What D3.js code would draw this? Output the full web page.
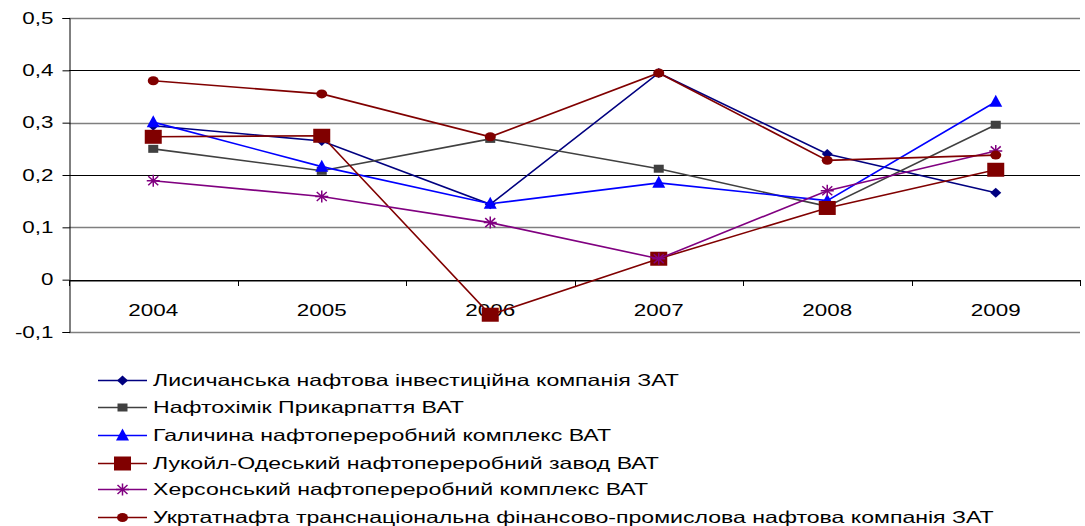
<!DOCTYPE html>
<html><head><meta charset="utf-8">
<script src="https://cdn.jsdelivr.net/npm/d3@7"></script>
<style>body{margin:0;background:#fff}svg{display:block}text{font-family:"Liberation Sans",Arial,sans-serif}</style>
</head><body><svg id="c" width="1085" height="526"></svg>
<script>
const years = ["2004","2005","2006","2007","2008","2009"];
const yTicks = [-0.1,0,0.1,0.2,0.3,0.4,0.5];
const seriesNames = [
  "Лисичанська нафтова інвестиційна компанія ЗАТ",
  "Нафтохімік Прикарпаття ВАТ",
  "Галичина нафтопереробний комплекс ВАТ",
  "Лукойл-Одеський нафтопереробний завод ВАТ",
  "Херсонський нафтопереробний комплекс ВАТ",
  "Укртатнафта транснаціональна фінансово-промислова нафтова компанія ЗАТ"
];
const lysychansk = [0.294,0.265,0.144,0.395,0.240,0.166];
const naftokhimik = [0.250,0.208,0.269,0.212,0.140,0.296];
const halychyna = [0.301,0.216,0.145,0.185,0.151,0.340];
const lukoil = [0.273,0.275,-0.067,0.040,0.137,0.210];
const kherson = [0.189,0.159,0.109,0.040,0.170,0.246];
const ukrtatnafta = [0.380,0.355,0.273,0.395,0.228,0.238];

const seriesValues = [lysychansk,naftokhimik,halychyna,lukoil,kherson,ukrtatnafta];
const colors = ["#000080","#404040","#0000ff","#800000","#800080","#800000"];
const markers = ["diamond","square","triangle","bigsquare","star","circle"];

const SX = 1.4; // horizontal stretch of the text
const svg = d3.select("#c");
const L=69,R=1080,T=18,B=332;
const x = d3.scaleBand().domain(years).range([L,R]);
const y = d3.scaleLinear().domain([-0.1,0.5]).range([B,T]);
const fmt = d => d===0 ? "0" : d3.format(".1f")(d).replace(".",",").replace("−","-");

// gridlines
svg.append("g").selectAll("line").data(yTicks).join("line")
  .attr("x1",L).attr("x2",R).attr("y1",d=>Math.round(y(d))+0.5).attr("y2",d=>Math.round(y(d))+0.5)
  .attr("stroke",(d,i)=> (i%2===0)?"#7f7f7f":"#000").attr("stroke-width",(d,i)=>(i%2===0)?1.4:1);

// y axis
const ya = svg.append("g").attr("transform",`translate(${L+0.5},0)`)
  .call(d3.axisLeft(y).tickValues(yTicks).tickSize(7).tickFormat(fmt));
ya.select(".domain").attr("stroke","#000");
ya.selectAll(".tick line").attr("stroke","#000");
ya.selectAll("text").attr("font-size",16).attr("fill","#000")
  .attr("x",0).attr("transform",`translate(-16,0) scale(${SX},1)`);

// x axis at 0
const xa = svg.append("g").attr("transform",`translate(0,${Math.round(y(0))+0.5})`)
  .call(d3.axisBottom(x).tickSize(0));
xa.select(".domain").attr("stroke","#000");
xa.selectAll("text").attr("font-size",16).attr("fill","#000")
  .attr("y",0).attr("dy",0).attr("transform",`translate(0,35) scale(${SX},1)`);
svg.append("g").selectAll("line").data(d3.range(years.length+1)).join("line")
  .attr("x1",i=>Math.round(L+i*x.bandwidth())+0.5).attr("x2",i=>Math.round(L+i*x.bandwidth())+0.5)
  .attr("y1",Math.round(y(0))).attr("y2",Math.round(y(0))+6).attr("stroke","#000");

function drawMarker(g, type, color, cx, cy){
  if(type==="diamond") g.append("path").attr("d",`M${cx},${cy-5}L${cx+5.5},${cy}L${cx},${cy+5}L${cx-5.5},${cy}Z`).attr("fill",color);
  else if(type==="square") g.append("rect").attr("x",cx-5).attr("y",cy-4).attr("width",10).attr("height",8).attr("fill",color);
  else if(type==="bigsquare") g.append("rect").attr("x",cx-8.5).attr("y",cy-7).attr("width",17).attr("height",14).attr("fill",color);
  else if(type==="triangle") g.append("path").attr("d",`M${cx},${cy-7}L${cx+6.5},${cy+5}L${cx-6.5},${cy+5}Z`).attr("fill",color);
  else if(type==="circle") g.append("ellipse").attr("cx",cx).attr("cy",cy).attr("rx",5.5).attr("ry",4.5).attr("fill",color);
  else if(type==="star"){
    const rx=6.5, ry=6;
    g.append("path").attr("d",`M${cx-rx},${cy}L${cx+rx},${cy}M${cx},${cy-ry}L${cx},${cy+ry}M${cx-5},${cy-4.5}L${cx+5},${cy+4.5}M${cx-5},${cy+4.5}L${cx+5},${cy-4.5}`)
      .attr("stroke",color).attr("stroke-width",1.5).attr("fill","none");
  }
}

const line = d3.line().x((d,i)=>x(years[i])+x.bandwidth()/2).y(d=>y(d));
seriesValues.forEach((vals,si)=>{
  const g = svg.append("g");
  g.append("path").datum(vals).attr("d",line).attr("fill","none").attr("stroke",colors[si]).attr("stroke-width",1.6);
  vals.forEach((v,i)=>drawMarker(g,markers[si],colors[si],x(years[i])+x.bandwidth()/2,y(v)));
});

// legend
const legY = [380,407,435,463,489,517];
seriesNames.forEach((n,i)=>{
  const g = svg.append("g");
  g.append("line").attr("x1",98).attr("x2",147).attr("y1",legY[i]+0.5).attr("y2",legY[i]+0.5).attr("stroke",colors[i]).attr("stroke-width",1.6);
  drawMarker(g,markers[i],colors[i],122.5,legY[i]+0.5);
  g.append("text").attr("transform",`translate(153,${legY[i]+6}) scale(${SX},1)`).attr("font-size",16.5).attr("fill","#000").text(n);
});
</script></body></html>
